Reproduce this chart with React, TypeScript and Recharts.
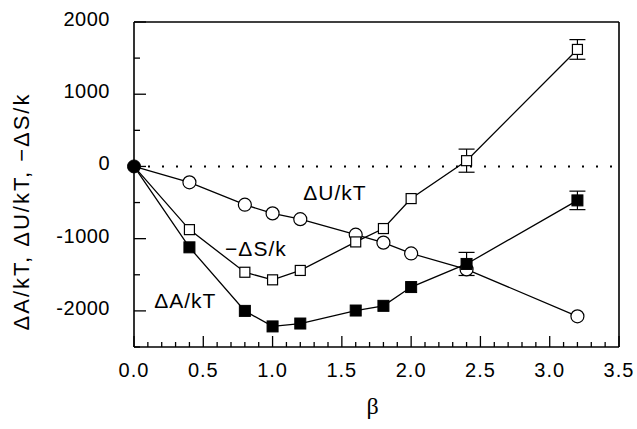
import { LineChart, Line, XAxis, YAxis, ErrorBar, ReferenceLine, ReferenceDot } from "recharts"

// β values shared by all three curves
const beta = [0, 0.4, 0.8, 1.0, 1.2, 1.6, 1.8, 2.0, 2.4, 3.2]

// ΔU/kT (open circles)
const dU = [0, -220, -530, -650, -730, -945, -1055, -1205, -1425, -2075]

// −ΔS/k (open squares) with error bars on the last two points
const minusDS = [0, -875, -1465, -1570, -1440, -1045, -860, -445, 80, 1620]
const minusDSErr = [null, null, null, null, null, null, null, null, 160, 136]

// ΔA/kT (filled squares)
const dA = [0, -1120, -2000, -2215, -2175, -1995, -1930, -1670, -1350, -470]
const dAErr = [null, null, null, null, null, null, null, null, 160, 128]

const xMajor = [0, 0.5, 1.0, 1.5, 2.0, 2.5, 3.0, 3.5]
const yMajor = [2000, 1000, 0, -1000, -2000]

const xTicks = Array.from({ length: 36 }, (_, i) => Number((i / 10).toFixed(1)))
const yTicks = Array.from({ length: 10 }, (_, i) => -2500 + i * 500)

const duData = beta.map((b, i) => ({ b, v: dU[i] }))
const dsData = beta.map((b, i) => ({ b, v: minusDS[i], e: minusDSErr[i] }))
const daData = beta.map((b, i) => ({ b, v: dA[i], e: dAErr[i] }))

const FONT = '"Liberation Sans", Arial, Helvetica, sans-serif'

const isMajorX = (v: number) => xMajor.some((m) => Math.abs(m - v) < 1e-6)

function BottomTick(p: any) {
  const v = p.payload.value
  const major = isMajorX(v)
  return (
    <g>
      <line x1={p.x} x2={p.x} y1={p.y} y2={p.y - (major ? 11 : 5)} stroke="#000" strokeWidth={1.3} />
      {major && (
        <text x={p.x} y={p.y + 30} textAnchor="middle" fontSize={20} letterSpacing={1} fill="#000" fontFamily={FONT}>
          {v.toFixed(1)}
        </text>
      )}
    </g>
  )
}

function TopTick(p: any) {
  const major = isMajorX(p.payload.value)
  return <line x1={p.x} x2={p.x} y1={p.y} y2={p.y + (major ? 11 : 5)} stroke="#000" strokeWidth={1.3} />
}

function LeftTick(p: any) {
  const v = p.payload.value
  const major = yMajor.includes(v)
  return (
    <g>
      <line x1={p.x} x2={p.x + (major ? 12 : 6)} y1={p.y} y2={p.y} stroke="#000" strokeWidth={1.3} />
      {major && (
        <text x={p.x - 24} y={p.y + 4} textAnchor="end" fontSize={20} letterSpacing={0.5} fill="#000" fontFamily={FONT}>
          {v}
        </text>
      )}
    </g>
  )
}

function RightTick(p: any) {
  const major = yMajor.includes(p.payload.value)
  return <line x1={p.x} x2={p.x - (major ? 12 : 6)} y1={p.y} y2={p.y} stroke="#000" strokeWidth={1.3} />
}

const OpenCircle = (p: any) =>
  p.payload.b === 0 ? (
    <g key={p.key} />
  ) : (
    <circle key={p.key} cx={p.cx} cy={p.cy} r={6.5} fill="#fff" stroke="#000" strokeWidth={1.2} />
  )

const OpenSquare = (p: any) =>
  p.payload.b === 0 ? (
    <g key={p.key} />
  ) : (
    <rect key={p.key} x={p.cx - 5} y={p.cy - 5} width={10} height={10} fill="#fff" stroke="#000" strokeWidth={1.2} />
  )

const FilledSquare = (p: any) =>
  p.payload.b === 0 ? (
    <g key={p.key} />
  ) : (
    <rect key={p.key} x={p.cx - 5.5} y={p.cy - 5.5} width={11} height={11} fill="#000" stroke="#000" strokeWidth={1} />
  )

const seriesLabel = (text: string) => ({
  value: text,
  position: "center" as const,
  fontSize: 21,
  fill: "#000",
  letterSpacing: 1,
  fontFamily: FONT,
})

export default function App() {
  return (
    <div style={{ position: "fixed", left: 0, top: 0, width: 637, height: 429, background: "#fff" }}>
      <LineChart width={637} height={429} margin={{ top: 21, right: 0, bottom: 0, left: 0 }} style={{ fontFamily: FONT }}>
        <XAxis
          dataKey="b"
          type="number"
          domain={[0, 3.5]}
          ticks={xTicks}
          interval={0}
          tickSize={0}
          tickMargin={0}
          height={82}
          axisLine={{ stroke: "#000", strokeWidth: 1.6 }}
          tick={(p: any) => <BottomTick {...p} />}
          label={{
            content: (lp: any) => (
              <text
                x={lp.viewBox.x + lp.viewBox.width / 2 - 4}
                y={lp.viewBox.y + 67}
                textAnchor="middle"
                fontSize={24}
                fill="#000"
                fontFamily='"Liberation Serif", "DejaVu Serif", serif'
              >
                β
              </text>
            ),
          }}
        />
        <XAxis
          xAxisId="top"
          orientation="top"
          dataKey="b"
          type="number"
          domain={[0, 3.5]}
          ticks={xTicks}
          interval={0}
          tickSize={0}
          tickMargin={0}
          height={1}
          axisLine={{ stroke: "#000", strokeWidth: 1.6 }}
          tick={(p: any) => <TopTick {...p} />}
        />
        <YAxis
          type="number"
          domain={[-2500, 2000]}
          ticks={yTicks}
          interval={0}
          tickSize={0}
          tickMargin={0}
          width={134}
          axisLine={{ stroke: "#000", strokeWidth: 1.6 }}
          tick={(p: any) => <LeftTick {...p} />}
          label={{
            content: (lp: any) => {
              const cx = lp.viewBox.x + 21
              const cy = lp.viewBox.y + lp.viewBox.height / 2 + 27
              return (
                <text
                  x={cx}
                  y={cy}
                  transform={`rotate(-90 ${cx} ${cy})`}
                  textAnchor="middle"
                  dominantBaseline="central"
                  fontSize={22}
                  letterSpacing={2}
                  fill="#000"
                  fontFamily={FONT}
                >
                  ΔA/kT, ΔU/kT, −ΔS/k
                </text>
              )
            },
          }}
        />
        <YAxis
          yAxisId="right"
          orientation="right"
          type="number"
          domain={[-2500, 2000]}
          ticks={yTicks}
          interval={0}
          tickSize={0}
          tickMargin={0}
          width={18}
          axisLine={{ stroke: "#000", strokeWidth: 1.6 }}
          tick={(p: any) => <RightTick {...p} />}
        />

        <ReferenceLine y={0} stroke="#000" strokeWidth={2} strokeDasharray="2 12" />

        <Line data={duData} dataKey="v" stroke="#000" strokeWidth={1.3} dot={OpenCircle} isAnimationActive={false} />
        <Line data={dsData} dataKey="v" stroke="#000" strokeWidth={1.3} dot={OpenSquare} isAnimationActive={false}>
          <ErrorBar dataKey="e" direction="y" width={8} stroke="#000" strokeWidth={1.2} />
        </Line>
        <Line data={daData} dataKey="v" stroke="#000" strokeWidth={1.3} dot={FilledSquare} isAnimationActive={false}>
          <ErrorBar dataKey="e" direction="y" width={8} stroke="#000" strokeWidth={1.2} />
        </Line>

        <ReferenceDot x={0} y={0} r={6.5} fill="#000" stroke="#000" />
        <ReferenceDot x={1.45} y={-365} r={0} fill="none" stroke="none" label={seriesLabel("ΔU/kT")} />
        <ReferenceDot x={0.88} y={-1140} r={0} fill="none" stroke="none" label={seriesLabel("−ΔS/k")} />
        <ReferenceDot x={0.37} y={-1860} r={0} fill="none" stroke="none" label={seriesLabel("ΔA/kT")} />
      </LineChart>
    </div>
  )
}
